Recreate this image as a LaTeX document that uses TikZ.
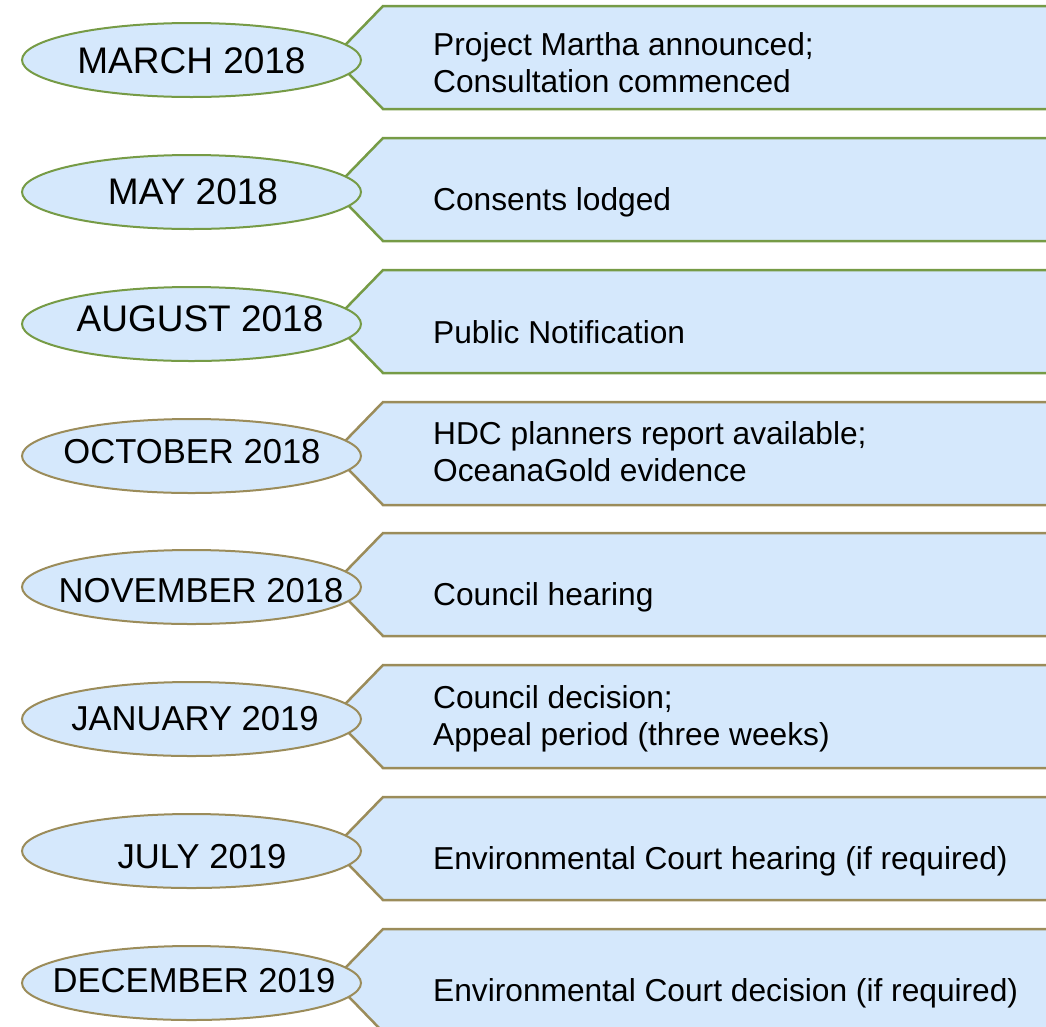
\documentclass[tikz,border=0pt]{standalone}
\usepackage{fontspec}
\setmainfont{Liberation Sans}
\usepackage{tikz}
\usetikzlibrary{shapes.geometric}
\definecolor{boxblue}{RGB}{213,232,252}
\definecolor{linegreen}{RGB}{118,155,70}
\definecolor{linetan}{RGB}{155,140,90}

\begin{document}
\begin{tikzpicture}[x=1pt, y=-1pt,
  datebox/.style={ellipse, draw, fill=boxblue, line width=2pt, minimum width=339pt, minimum height=74pt, inner sep=0pt},
  datetext/.style={font=\fontsize{37}{44}\selectfont, inner sep=0pt},
  datesmall/.style={font=\fontsize{34.6}{41}\selectfont, inner sep=0pt},
  eventbox/.style={fill=boxblue, line width=2.5pt},
  eventtext/.style={font=\fontsize{31.7}{37}\selectfont, align=left, inner sep=0pt}]
\useasboundingbox (0,0) rectangle (1046,1026);
\clip (0,0) rectangle (1046,1026);

% march 2018
\filldraw[eventbox, draw=linegreen] (383,6) -- (1060,6) -- (1060,109) -- (383,109) -- (333,57.5) -- cycle;
\node[datebox, draw=linegreen] (mar) at (191.5,60) {};
\node[datetext] (martxt) at (191.5,60.5) {MARCH 2018};
\node[eventtext, anchor=north west] (marev) at (433,32.5) {Project Martha announced;\\Consultation commenced};

% may 2018
\filldraw[eventbox, draw=linegreen] (383,138) -- (1060,138) -- (1060,241) -- (383,241) -- (333,189.5) -- cycle;
\node[datebox, draw=linegreen] (may) at (191.5,192) {};
\node[datetext] (maytxt) at (193,192) {MAY 2018};
\node[eventtext, anchor=base west] (mayev) at (433,210.5) {Consents lodged};

% august 2018
\filldraw[eventbox, draw=linegreen] (383,270) -- (1060,270) -- (1060,373) -- (383,373) -- (333,321.5) -- cycle;
\node[datebox, draw=linegreen] (aug) at (191.5,324) {};
\node[datetext] (augtxt) at (200,319) {AUGUST 2018};
\node[eventtext, anchor=base west] (augev) at (433,343) {Public Notification};

% october 2018
\filldraw[eventbox, draw=linetan] (383,402) -- (1060,402) -- (1060,505) -- (383,505) -- (333,453.5) -- cycle;
\node[datebox, draw=linetan] (oct) at (191.5,456) {};
\node[datesmall] (octtxt) at (192,452) {OCTOBER 2018};
\node[eventtext, anchor=north west] (octev) at (433,421.5) {HDC planners report available;\\OceanaGold evidence};

% november 2018
\filldraw[eventbox, draw=linetan] (383,533) -- (1060,533) -- (1060,636) -- (383,636) -- (333,584.5) -- cycle;
\node[datebox, draw=linetan] (nov) at (191.5,587) {};
\node[datesmall] (novtxt) at (201,590.5) {NOVEMBER 2018};
\node[eventtext, anchor=base west] (novev) at (433,605.5) {Council hearing};

% january 2019
\filldraw[eventbox, draw=linetan] (383,665) -- (1060,665) -- (1060,768) -- (383,768) -- (333,716.5) -- cycle;
\node[datebox, draw=linetan] (jan) at (191.5,719) {};
\node[datesmall] (jantxt) at (195,719) {JANUARY 2019};
\node[eventtext, anchor=north west] (janev) at (433,685.5) {Council decision;\\Appeal period (three weeks)};

% july 2019
\filldraw[eventbox, draw=linetan] (383,797) -- (1060,797) -- (1060,900) -- (383,900) -- (333,848.5) -- cycle;
\node[datebox, draw=linetan] (jul) at (191.5,851) {};
\node[datesmall] (jultxt) at (202,857) {JULY 2019};
\node[eventtext, anchor=base west] (julev) at (433,869.5) {Environmental Court hearing (if required)};

% december 2019
\filldraw[eventbox, draw=linetan] (383,929) -- (1060,929) -- (1060,1032) -- (383,1032) -- (333,980.5) -- cycle;
\node[datebox, draw=linetan] (dec) at (191.5,983) {};
\node[datesmall] (dectxt) at (194,980.5) {DECEMBER 2019};
\node[eventtext, anchor=base west] (decev) at (433,1001.5) {Environmental Court decision (if required)};
\end{tikzpicture}
\end{document}
